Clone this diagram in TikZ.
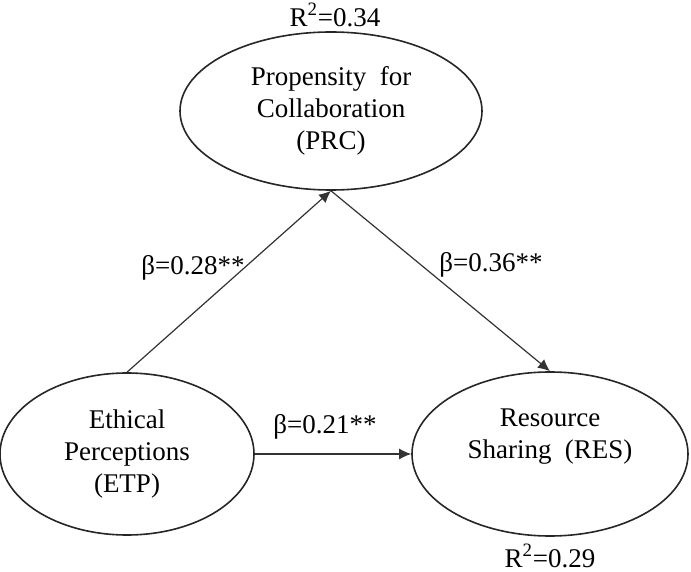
\documentclass[tikz,border=0pt]{standalone}
\usepackage{fontspec}
\setmainfont{Liberation Serif}
\usepackage{tikz}
\usetikzlibrary{shapes.geometric, positioning, arrows.meta}

\tikzset{
    bien/.style={ellipse, draw=black!85, line width=0.8pt, inner sep=0pt,
        align=center, font=\fontsize{13.5}{16}\selectfont},
    heso/.style={font=\fontsize{13.5}{16}\selectfont}
}

\begin{document}
\begin{tikzpicture}[>={Latex[length=6pt, width=5.5pt]}, x=0.5pt, y=-0.5pt]
    % Khung hình
    \useasboundingbox (0,0) rectangle (691,572);
    
    % Vẽ các biến
    \node[bien, minimum width=151pt, minimum height=79pt] (prc) at (331,111)
        {Propensity~ for\\Collaboration\\(PRC)};
    \node[bien, minimum width=127pt, minimum height=81pt] (etp) at (127,454)
        {Ethical\\Perceptions\\(ETP)};
    \node[bien, minimum width=138pt, minimum height=82pt] (res) at (550,454)
        {Resource\\Sharing~ (RES)\\\strut};
    
    % Vẽ các mũi tên
    \draw[->, line width=0.6pt, black!80] (etp.north) -- (prc.south);
    \draw[->, line width=0.6pt, black!80] (prc.south) -- (res.north);
    \draw[->, line width=0.6pt, black!80] (etp.east) -- (res.west);
    
    % Hệ số
    \node[heso] (b1) at (193,268) {β=0.28**};
    \node[heso] (b2) at (491,265) {β=0.36**};
    \node[heso] (b3) at (325,427) {β=0.21**};
    \node[heso] (r1) at (335,15) {R\textsuperscript{2}=0.34};
    \node[heso] (r2) at (550,556) {R\textsuperscript{2}=0.29};
    
\end{tikzpicture}
\end{document}
